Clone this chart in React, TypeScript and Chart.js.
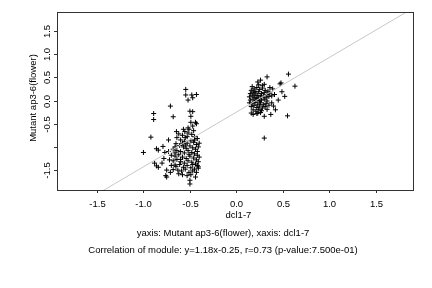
import React, { useEffect, useRef } from "react";
import { Chart, registerables } from "chart.js";

Chart.register(...registerables);

const xTicks = [-1.5, -1.0, -0.5, 0.0, 0.5, 1.0, 1.5];
const yTicks = [-1.5, -1.0, -0.5, 0.0, 0.5, 1.0, 1.5];
const yTickLabels = ["-1.5", "", "-0.5", "0.0", "0.5", "1.0", "1.5"];
const xTitle = "dcl1-7";
const yTitle = "Mutant ap3-6(flower)";
const caption1 = "yaxis: Mutant ap3-6(flower), xaxis: dcl1-7";
const caption2 = "Correlation of module: y=1.18x-0.25, r=0.73 (p-value:7.500e-01)";
const fitSlope = 1.18;
const fitIntercept = -0.25;
const xRange = [-1.93, 1.9];
const yRange = [-1.93, 1.91];

const leftX = [
  -0.545, -0.545, -0.48, -0.43, -0.47, -0.52, -0.71, -0.89, -0.89, -0.68, -0.5, -0.47, -0.49, -0.49, -0.44, -0.43, -0.52, -0.645, -0.555, -0.92,
  -0.73, -1.0, -0.84, -0.79, -0.77, -0.88, -0.86, -0.84, -0.75, -0.75, -0.68, -0.66, -0.5, -0.5, -0.41, -0.41, -0.86, -0.76,
  -0.62, -0.58, -0.55, -0.52, -0.48, -0.45, -0.42, -0.6, -0.56, -0.53, -0.49, -0.46, -0.43, -0.65, -0.61, -0.57, -0.54, -0.5, -0.47, -0.44,
  -0.41, -0.68, -0.64, -0.6, -0.56, -0.52, -0.48, -0.45, -0.42, -0.7, -0.66, -0.62, -0.58, -0.54, -0.5, -0.46, -0.43, -0.4, -0.72, -0.68,
  -0.64, -0.6, -0.56, -0.52, -0.48, -0.44, -0.41, -0.7, -0.65, -0.61, -0.57, -0.53, -0.49, -0.45, -0.42, -0.63, -0.59, -0.55, -0.51, -0.47,
  -0.43, -0.58, -0.53, -0.64, -0.51, -0.46, -0.47, -0.57, -0.66, -0.73, -0.78, -0.8, -0.71, -0.62, -0.49, -0.44, -0.55, -0.51, -0.47, -0.42,
  -0.53, -0.6, -0.66, -0.58, -0.45, -0.4,
];
const leftY = [
  0.24, 0.12, 0.12, 0.13, 0.06, 0.01, -0.12, -0.28, -0.41, -0.35, -0.23, -0.24, -0.34, -0.47, -0.47, -0.5, -0.59, -0.67, -0.67, -0.79,
  -0.85, -1.12, -1.07, -0.99, -1.12, -1.35, -1.41, -1.44, -1.5, -1.65, -1.49, -1.39, -1.72, -1.8, -1.43, -1.46, -1.04, -1.62,
  -0.72, -0.75, -0.8, -0.7, -0.73, -0.78, -0.82, -0.85, -0.88, -0.92, -0.87, -0.9, -0.95, -0.93, -0.97, -1.0, -1.03, -0.98, -1.02, -1.05,
  -1.0, -1.05, -1.08, -1.1, -1.13, -1.08, -1.12, -1.15, -1.1, -1.18, -1.2, -1.17, -1.22, -1.25, -1.2, -1.24, -1.28, -1.22, -1.28, -1.3,
  -1.27, -1.32, -1.35, -1.3, -1.33, -1.37, -1.32, -1.4, -1.42, -1.38, -1.44, -1.4, -1.45, -1.48, -1.4, -1.5, -1.52, -1.48, -1.55, -1.52,
  -1.55, -1.6, -1.62, -0.8, -0.62, -0.65, -0.55, -0.62, -1.0, -1.1, -1.25, -1.35, -1.55, -1.58, -1.6, -1.65, -0.96, -1.16, -1.38, -1.18,
  -0.78, -1.27, -1.13, -0.92, -0.85, -0.92,
];
const rightX = [
  0.33, 0.56, 0.63, 0.48, 0.23, 0.3, 0.39, 0.49, 0.52, 0.41, 0.45, 0.38, 0.55, 0.37, 0.3, 0.18, 0.23, 0.3, 0.47, 0.26,
  0.16, 0.19, 0.22, 0.25, 0.28, 0.31, 0.34, 0.15, 0.18, 0.21, 0.24, 0.27, 0.3, 0.33, 0.36, 0.14, 0.17, 0.2, 0.23, 0.26,
  0.29, 0.32, 0.35, 0.15, 0.18, 0.21, 0.24, 0.27, 0.3, 0.33, 0.14, 0.17, 0.2, 0.23, 0.26, 0.29, 0.32, 0.35, 0.16, 0.19,
  0.22, 0.25, 0.28, 0.31, 0.18, 0.21, 0.24, 0.27, 0.33, 0.19, 0.22, 0.25, 0.2, 0.17, 0.28, 0.24, 0.36, 0.38, 0.4, 0.42,
  0.16, 0.22, 0.26,
];
const rightY = [
  0.51, 0.57, 0.31, 0.38, 0.4, 0.35, 0.25, 0.19, 0.09, 0.13, 0.01, -0.05, -0.33, -0.3, -0.34, -0.3, -0.27, -0.81, 0.36, 0.44,
  0.22, 0.25, 0.28, 0.24, 0.27, 0.22, 0.2, 0.15, 0.18, 0.16, 0.19, 0.15, 0.17, 0.13, 0.16, 0.08, 0.1, 0.07, 0.11, 0.08,
  0.1, 0.06, 0.09, 0.01, 0.03, 0.0, 0.04, 0.01, 0.03, -0.01, -0.05, -0.07, -0.04, -0.08, -0.05, -0.09, -0.06, -0.1, -0.13, -0.11,
  -0.15, -0.12, -0.16, -0.13, -0.2, -0.23, -0.19, -0.22, -0.19, 0.12, 0.05, -0.01, 0.2, 0.3, 0.32, 0.34, 0.28, 0.1, -0.12, -0.2,
  -0.27, -0.28, -0.26,
];

const FONT = "9.5px 'Liberation Sans', Arial, sans-serif";

const axesPlugin = {
  id: "rAxes",
  afterDraw(chart: any) {
    const ctx = chart.ctx;
    const { left, right, top, bottom } = chart.chartArea;
    const xs = chart.scales.x;
    const ys = chart.scales.y;
    ctx.save();
    ctx.strokeStyle = "#333";
    ctx.lineWidth = 1;
    ctx.strokeRect(Math.round(left) + 0.5, Math.round(top) + 0.5, Math.round(right - left), Math.round(bottom - top));
    ctx.font = FONT;
    ctx.fillStyle = "#000";
    ctx.textAlign = "center";
    ctx.textBaseline = "middle";
    xTicks.forEach((v) => {
      const px = Math.round(xs.getPixelForValue(v)) + 0.5;
      ctx.beginPath();
      ctx.moveTo(px, Math.round(bottom));
      ctx.lineTo(px, Math.round(bottom) + 3);
      ctx.stroke();
      ctx.fillText(v.toFixed(1), px, bottom + 14);
    });
    yTicks.forEach((v, i) => {
      const py = Math.round(ys.getPixelForValue(v)) + 0.5;
      ctx.beginPath();
      ctx.moveTo(Math.round(left), py);
      ctx.lineTo(Math.round(left) - 3, py);
      ctx.stroke();
      const lab = yTickLabels[i];
      if (lab) {
        ctx.save();
        ctx.translate(left - 10, py);
        ctx.rotate(-Math.PI / 2);
        ctx.fillText(lab, 0, 0);
        ctx.restore();
      }
    });
    ctx.fillText(xTitle, xs.getPixelForValue(0) + 2, bottom + 25);
    ctx.save();
    ctx.translate(left - 24, (top + bottom) / 2 - 3);
    ctx.rotate(-Math.PI / 2);
    ctx.fillText(yTitle, 0, 0);
    ctx.restore();
    const cx = (left + right) / 2 - 12;
    ctx.fillText(caption1, cx, bottom + 43);
    ctx.fillText(caption2, cx, bottom + 60);
    ctx.restore();
  },
};

export default function App() {
  const ref = useRef<HTMLCanvasElement | null>(null);
  useEffect(() => {
    document.body.style.margin = "0";
    const pts = [
      ...leftX.map((x, i) => ({ x, y: leftY[i] })),
      ...rightX.map((x, i) => ({ x, y: rightY[i] })),
    ];
    const lineX = [-2.5, 2.5];
    const fit = lineX.map((x) => ({ x, y: fitSlope * x + fitIntercept }));
    const chart = new Chart(ref.current as HTMLCanvasElement, {
      type: "scatter",
      data: {
        datasets: [
          {
            data: fit,
            showLine: true,
            borderColor: "#c8c8c8",
            borderWidth: 1,
            pointRadius: 0,
          } as any,
          {
            data: pts,
            pointStyle: "cross",
            pointRadius: 2.5,
            borderColor: "#000",
            backgroundColor: "#000",
            borderWidth: 1,
          },
        ],
      },
      options: {
        animation: false,
        responsive: false,
        layout: { padding: { left: 57, right: 19, top: 12, bottom: 98 } },
        plugins: { legend: { display: false }, tooltip: { enabled: false } },
        scales: {
          x: { type: "linear", min: xRange[0], max: xRange[1], display: false },
          y: { type: "linear", min: yRange[0], max: yRange[1], display: false },
        },
      },
      plugins: [axesPlugin],
    });
    return () => chart.destroy();
  }, []);
  return <canvas ref={ref} width={432} height={288} style={{ display: "block" }} />;
}
